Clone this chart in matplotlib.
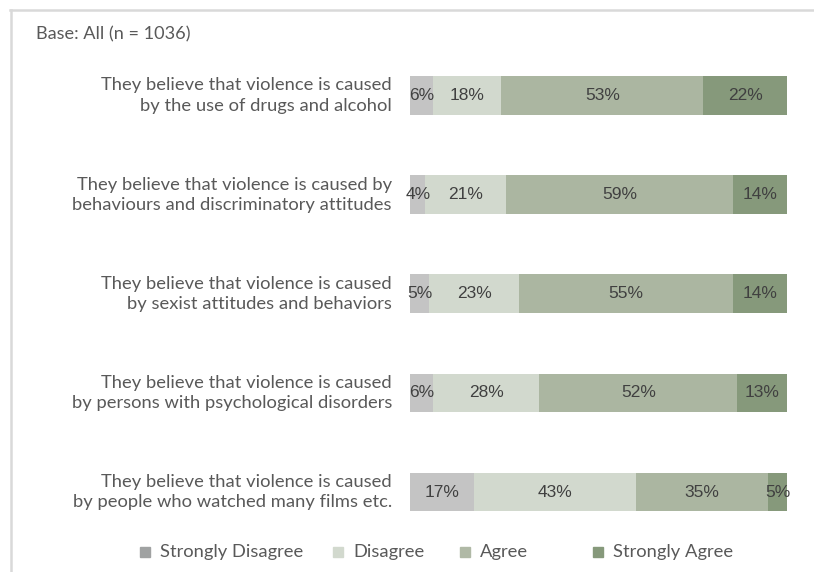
import matplotlib.pyplot as plt
from matplotlib.patches import Rectangle
from matplotlib.lines import Line2D
import numpy as np

# 数据
categories = [
    "They believe that violence is caused\nby the use of drugs and alcohol",
    "They believe that violence is caused by\nbehaviours and discriminatory attitudes",
    "They believe that violence is caused\nby sexist attitudes and behaviors",
    "They believe that violence is caused\nby persons with psychological disorders",
    "They believe that violence is caused\nby people who watched many films etc.",
]
series_names = ["Strongly Disagree", "Disagree", "Agree", "Strongly Agree"]
strongly_disagree = [6, 4, 5, 6, 17]
disagree = [18, 21, 23, 28, 43]
agree = [53, 59, 55, 52, 35]
strongly_agree = [22, 14, 14, 13, 5]

bar_colors = ["#c4c4c4", "#d2d9ce", "#abb6a1", "#86997b"]
legend_colors = ["#a0a2a2", "#d2d9ce", "#b0b9a6", "#86997b"]

values = np.array([strongly_disagree, disagree, agree, strongly_agree], dtype=float)
# 每行按合计缩放到 100%
totals = values.sum(axis=0)
shares = values / totals * 100

fig = plt.figure(figsize=(8.14, 5.72), dpi=100)
ax = fig.add_axes([410 / 814, 1 - 541.6 / 572, 377 / 814, 495.7 / 572])

y = np.arange(len(categories))
left = np.zeros(len(categories))
for i in range(len(series_names)):
    ax.barh(y, shares[i], left=left, height=0.39, color=bar_colors[i], edgecolor="none")
    for j in range(len(categories)):
        ax.text(left[j] + shares[i][j] / 2, y[j], f"{int(values[i][j])}%",
                ha="center", va="center", fontsize=12.5, color="#404040",
                family="Liberation Sans")
    left += shares[i]

ax.set_xlim(0, 100)
ax.set_ylim(4.5, -0.5)
ax.axis("off")

# 类别标签
for j, cat in enumerate(categories):
    ax.text(-4.8, y[j], cat, ha="right", va="center", fontsize=13.2,
            color="#595959", family="Lato", linespacing=1.32,
            multialignment="right")

fig.text(36 / 814, 1 - 34 / 572, "Base: All (n = 1036)", ha="left", va="center",
         fontsize=13.1, color="#595959", family="Lato")

# 图例
legend_x = [140, 333, 460, 593]
for k, name in enumerate(series_names):
    fig.patches.append(Rectangle((legend_x[k] / 814, 1 - 557 / 572), 10 / 814, 10 / 572,
                                 transform=fig.transFigure, color=legend_colors[k]))
    fig.text((legend_x[k] + 20) / 814, 1 - 552 / 572, name, ha="left", va="center",
             fontsize=13.2, color="#595959", family="Lato")

# 外框
fig.add_artist(Line2D([10 / 814, 1], [1 - 10 / 572] * 2, transform=fig.transFigure,
                      color="#d9d9d9", lw=1.8))
fig.add_artist(Line2D([11 / 814] * 2, [0, 1 - 10 / 572], transform=fig.transFigure,
                      color="#d9d9d9", lw=1.8))

plt.savefig("out.png", dpi=100)
